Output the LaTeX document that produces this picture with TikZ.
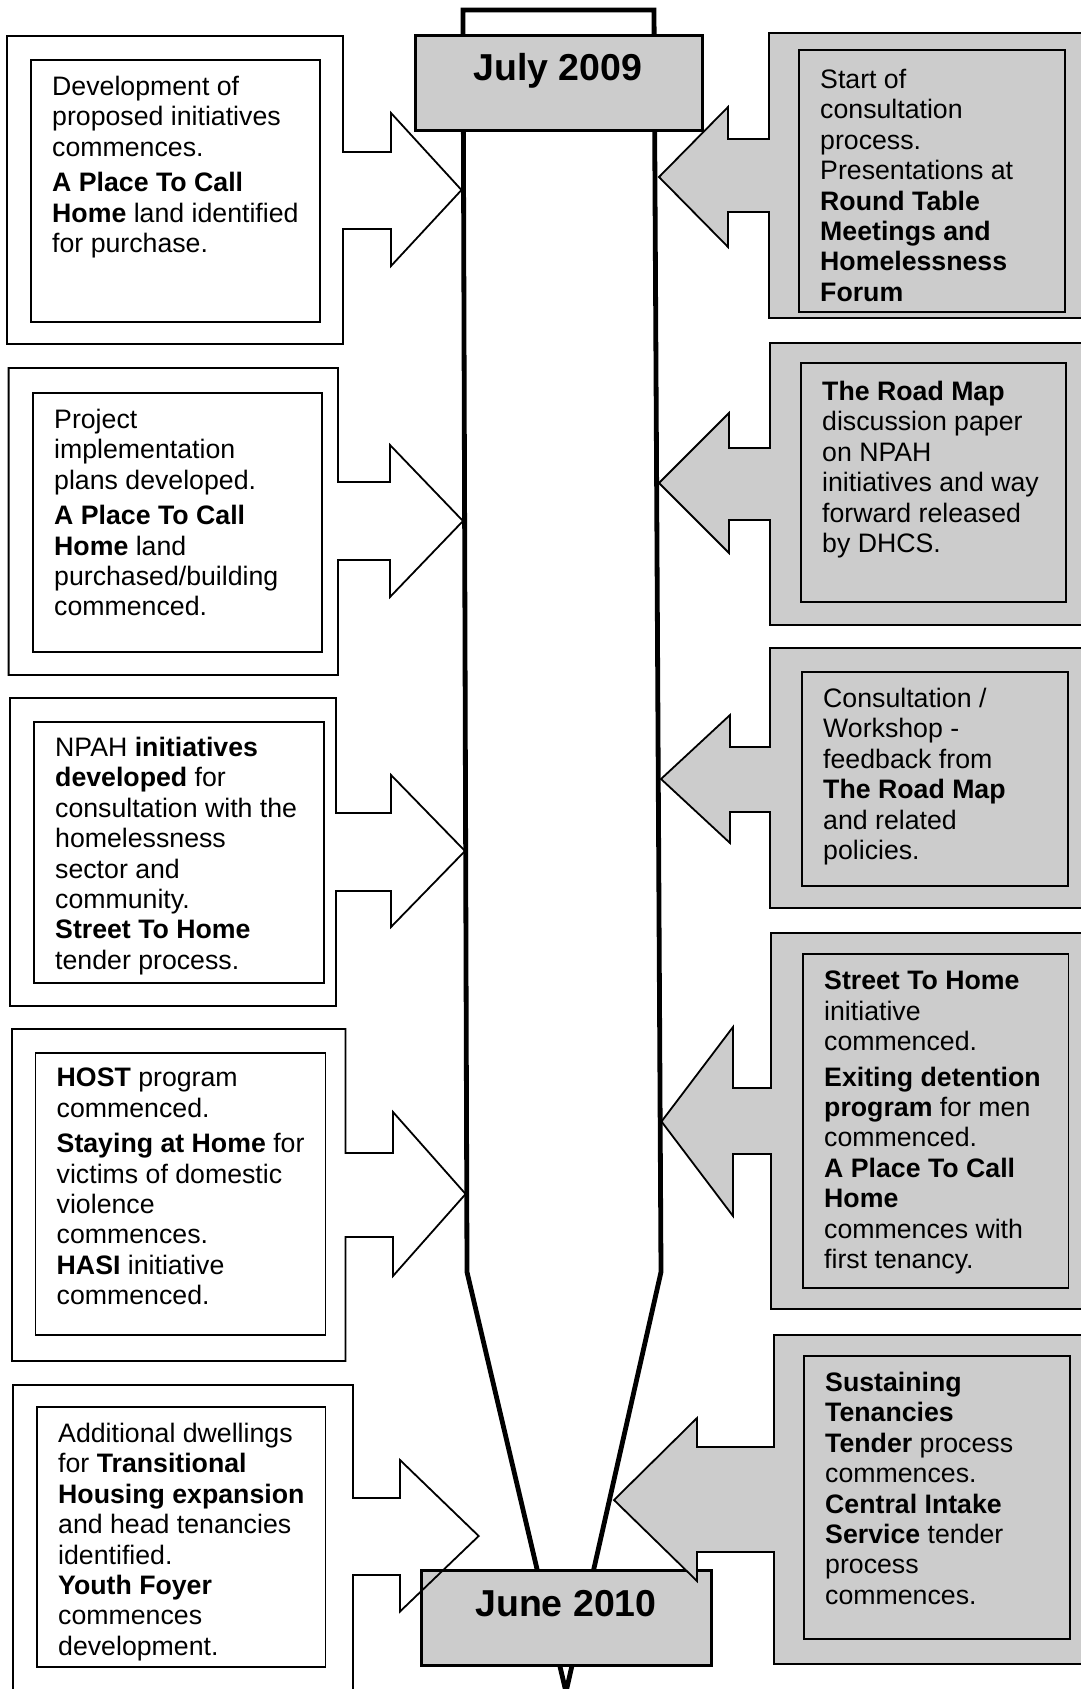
\documentclass[tikz,border=0pt]{standalone}
\usepackage{fontspec}
\setmainfont{Liberation Sans}
\definecolor{shade}{gray}{0.8}
\begin{document}
\begin{tikzpicture}[x=1pt,y=-1pt,
  lbox/.style={draw=black,line width=1.8pt,line join=miter},
  rbox/.style={lbox,fill=shade},
  inbox/.style={draw=black,line width=1.8pt},
  txt/.style={anchor=north west,align=left,inner sep=0pt,font=\fontsize{26.7}{30.4}\selectfont},
  datebox/.style={draw=black,line width=3pt,fill=shade,inner sep=0pt},
  datetxt/.style={font=\fontsize{37.5}{40}\selectfont\bfseries,inner sep=0pt},
  spine/.style={draw=black,line width=4.8pt,line join=miter,fill=white}]
\useasboundingbox (0,0) rectangle (1081,1689);
\clip (0,0) rectangle (1081,1689);
\fill[white] (0,0) rectangle (1081,1689);

% spine
\path[spine] (463,10) -- (654,10) -- (661,1272) -- (566,1692) -- (467,1272) -- cycle;

% date boxes
\node[datebox,minimum width=287pt,minimum height=95pt] (july) at (558.5,82.5) {};
\node[datetxt] (julyt) at (558,71) {July 2009};
\node[datebox,minimum width=290pt,minimum height=95pt] (june) at (566,1617.5) {};
\node[datetxt] (junet) at (566,1604) {June 2010};

% left callouts
\draw[lbox] (7,36) -- (343,36) -- (343,152) -- (391,152) -- (391,113) -- (461.5,190) -- (391,266) -- (391,229) -- (343,229) -- (343,344) -- (7,344) -- cycle;
\draw[inbox] (31,60) rectangle (320,322);
\draw[lbox] (8.6,368) -- (338,368) -- (338,482) -- (390,482) -- (390,445) -- (463,521) -- (390,597) -- (390,560) -- (338,560) -- (338,675) -- (8.6,675) -- cycle;
\draw[inbox] (33,393) rectangle (322,652);
\draw[lbox] (10,698) -- (336,698) -- (336,813) -- (391,813) -- (391,775) -- (465,851) -- (391,927) -- (391,891) -- (336,891) -- (336,1006) -- (10,1006) -- cycle;
\draw[inbox] (34,722) rectangle (324,983);
\draw[lbox] (12,1029) -- (345.5,1029) -- (345.5,1153) -- (393,1153) -- (393,1112) -- (465.6,1194) -- (393,1276) -- (393,1237) -- (345.5,1237) -- (345.5,1361) -- (12,1361) -- cycle;
\draw[inbox] (35.5,1053) rectangle (325.5,1335);
\draw[lbox] (13,1385) -- (353,1385) -- (353,1498) -- (400,1498) -- (400,1460) -- (478.7,1536) -- (400,1611.5) -- (400,1575) -- (353,1575) -- (353,1700) -- (13,1700) -- cycle;
\draw[inbox] (37,1406.6) rectangle (325.5,1666.6);

% right callouts
\draw[rbox] (1090,33) -- (769,33) -- (769,139) -- (728,139) -- (728,107) -- (659,177) -- (728,247) -- (728,212) -- (769,212) -- (769,318) -- (1090,318) -- cycle;
\draw[inbox] (799,50) rectangle (1065,312);
\draw[rbox] (1090,343) -- (770,343) -- (770,448) -- (729,448) -- (729,413) -- (659,483) -- (729,553) -- (729,520) -- (770,520) -- (770,625) -- (1090,625) -- cycle;
\draw[inbox] (801,363) rectangle (1066,602);
\draw[rbox] (1090,648) -- (770,648) -- (770,747) -- (730,747) -- (730,715) -- (661,779) -- (730,843) -- (730,812) -- (770,812) -- (770,908) -- (1090,908) -- cycle;
\draw[inbox] (802,672) rectangle (1068,886);
\draw[rbox] (1090,933) -- (771,933) -- (771,1088) -- (733,1088) -- (733,1027) -- (661.5,1121.5) -- (733,1216) -- (733,1154) -- (771,1154) -- (771,1309) -- (1090,1309) -- cycle;
\draw[inbox] (803,954) rectangle (1068.5,1288);
\draw[rbox] (1090,1335) -- (774,1335) -- (774,1447) -- (697,1447) -- (697,1418) -- (614,1500) -- (697,1581) -- (697,1552) -- (774,1552) -- (774,1664) -- (1090,1664) -- cycle;
\draw[inbox] (804,1356) rectangle (1070,1639);

% left texts
\node[txt] (l1) at (52,76) {Development of\\proposed initiatives\\commences.\\[5pt]\textbf{A Place To Call}\\\textbf{Home} land identified\\for purchase.};
\node[txt] (l2) at (54,409) {Project\\implementation\\plans developed.\\[5pt]\textbf{A Place To Call}\\\textbf{Home} land\\purchased/building\\commenced.};
\node[txt] (l3) at (55,737) {NPAH \textbf{initiatives}\\\textbf{developed} for\\consultation with the\\homelessness\\sector and\\community.\\\textbf{Street To Home}\\tender process.};
\node[txt] (l4) at (56.5,1068) {\textbf{HOST} program\\commenced.\\[5pt]\textbf{Staying at Home} for\\victims of domestic\\violence\\commences.\\\textbf{HASI} initiative\\commenced.};
\node[txt] (l5) at (58,1423) {Additional dwellings\\for \textbf{Transitional}\\\textbf{Housing expansion}\\and head tenancies\\identified.\\\textbf{Youth Foyer}\\commences\\development.};

% right texts
\node[txt] (r1) at (820,69) {Start of\\consultation\\process.\\Presentations at\\\textbf{Round Table}\\\textbf{Meetings and}\\\textbf{Homelessness}\\\textbf{Forum}};
\node[txt] (r2) at (822,381) {\textbf{The Road Map}\\discussion paper\\on NPAH\\initiatives and way\\forward released\\by DHCS.};
\node[txt] (r3) at (823,688) {Consultation /\\Workshop -\\feedback from\\\textbf{The Road Map}\\and related\\policies.};
\node[txt] (r4) at (824,971) {\textbf{Street To Home}\\initiative\\commenced.\\[5pt]\textbf{Exiting detention}\\\textbf{program} for men\\commenced.\\\textbf{A Place To Call}\\\textbf{Home}\\commences with\\first tenancy.};
\node[txt] (r5) at (825,1372) {\textbf{Sustaining}\\\textbf{Tenancies}\\\textbf{Tender} process\\commences.\\\textbf{Central Intake}\\\textbf{Service} tender\\process\\commences.};
\end{tikzpicture}
\end{document}
